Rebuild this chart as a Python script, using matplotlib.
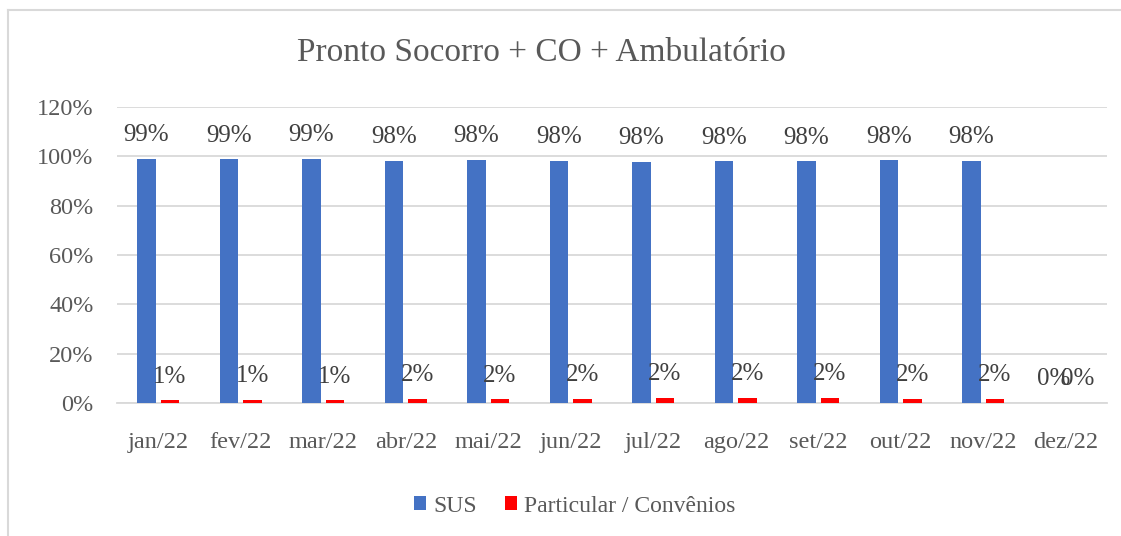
import matplotlib.pyplot as plt
import numpy as np
from matplotlib.lines import Line2D

months = ["jan/22", "fev/22", "mar/22", "abr/22", "mai/22", "jun/22",
          "jul/22", "ago/22", "set/22", "out/22", "nov/22", "dez/22"]
sus = [98.9, 98.8, 98.9, 98.2, 98.5, 98.2, 97.9, 98.0, 98.0, 98.4, 98.3, 0]
particular = [1.1, 1.2, 1.1, 1.8, 1.5, 1.8, 2.1, 2.0, 2.0, 1.6, 1.7, 0]
yticks = [0, 20, 40, 60, 80, 100, 120]

plt.rcParams['font.family'] = ['Liberation Serif', 'DejaVu Serif']
txt = "#595959"
lbl = "#404040"

fig = plt.figure(figsize=(11.21, 5.36), dpi=100)
ax = fig.add_axes([0.1044, 0.2481, 0.8831, 0.5522])

x = np.arange(len(months))
w = 0.225
b1 = ax.bar(x - 0.145, sus, w, color="#4472C4", label="SUS", zorder=3)
b2 = ax.bar(x + 0.14, particular, w, color="#FF0000", label="Particular / Convênios", zorder=3)

for bars, vals in [(b1, sus), (b2, particular)]:
    for r, v in zip(bars, vals):
        ax.annotate(f"{v:.0f}%", (r.get_x() + r.get_width() / 2, r.get_height()),
                    xytext=(0, 17), textcoords="offset points",
                    ha="center", va="center", fontsize=18, color=lbl, zorder=4)

ax.set_xlim(-0.5, len(months) - 0.5)
ax.set_ylim(0, 120)
ax.set_yticks(yticks)
ax.set_yticklabels([f"{t}%" for t in yticks])
ax.set_xticks(x)
ax.set_xticklabels(months)
ax.tick_params(axis="both", length=0, labelsize=17.5, colors=txt)
ax.tick_params(axis="y", pad=17)
ax.tick_params(axis="x", pad=21)
ax.grid(axis="y", color="#D9D9D9", linewidth=1.3, zorder=0)
for s in ["top", "right", "left"]:
    ax.spines[s].set_visible(False)
ax.spines["bottom"].set_color("#D9D9D9")
ax.spines["bottom"].set_linewidth(1.3)

fig.text(541 / 1121, 1 - 53 / 536, "Pronto Socorro + CO + Ambulatório",
         ha="center", va="center", fontsize=24, color=txt)

fig.legend(loc="center", bbox_to_anchor=(575 / 1121, 1 - 506 / 536), ncol=2,
           frameon=False, fontsize=17, labelcolor=txt, handlelength=0.5,
           handleheight=0.5, handletextpad=0.3, columnspacing=1.2)

# chart area border (only top and left visible)
fig.add_artist(Line2D([8 / 1121, 8 / 1121], [0, 1 - 10 / 536], color="#D9D9D9", lw=1.5))
fig.add_artist(Line2D([8 / 1121, 1], [1 - 10 / 536, 1 - 10 / 536], color="#D9D9D9", lw=1.5))

fig.savefig("out.png", dpi=100)
